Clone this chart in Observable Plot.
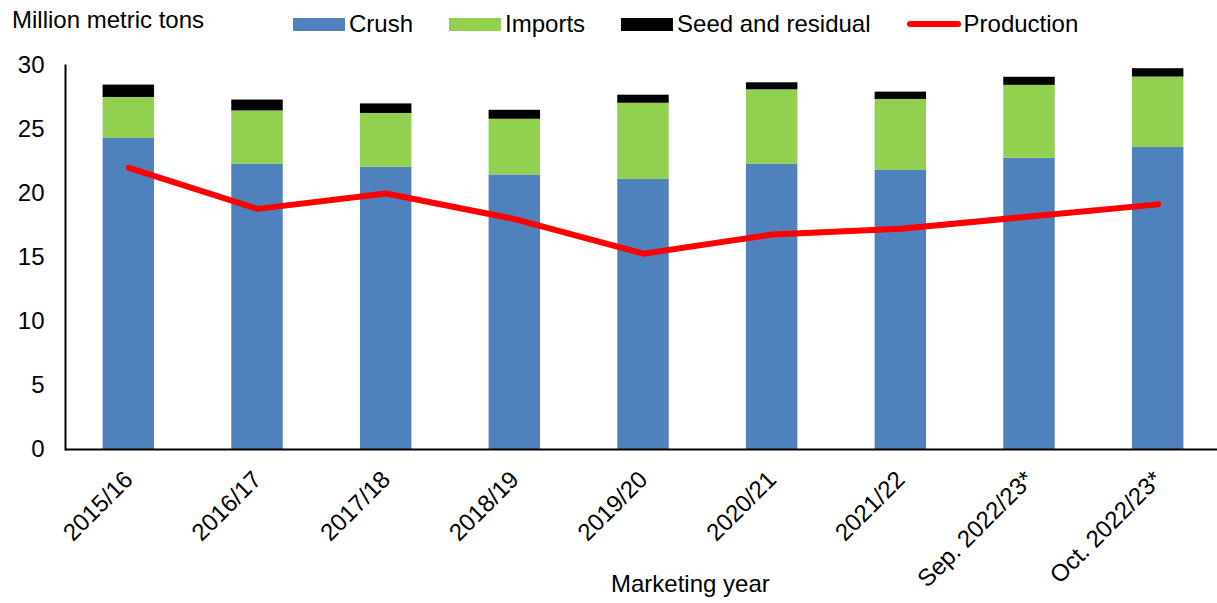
<!DOCTYPE html>
<html><head><meta charset="utf-8">
<script src="https://cdn.jsdelivr.net/npm/d3@7"></script>
<script src="https://cdn.jsdelivr.net/npm/@observablehq/plot@0.6"></script>
<style>
body{margin:0;background:#fff;font-family:"Liberation Sans",Arial,sans-serif;color:#000;}
#wrap{position:relative;width:1217px;height:603px;overflow:hidden;}
#title{position:absolute;left:12px;top:6px;font-size:24px;}
#legend{position:absolute;left:293px;top:10px;display:flex;gap:36px;font-size:24px;align-items:center;}
#legend .item{display:flex;align-items:center;}
#legend .sw{width:52px;height:13px;margin-right:4px;}
#legend .ln{width:54px;height:6px;border-radius:3px;margin-right:3px;background:#ff0000;}
#xlabel{position:absolute;left:611px;top:570px;font-size:24px;}
#chart{position:absolute;left:0;top:0;}
</style></head><body>
<div id="wrap"><div id="chart"></div><div id="title">Million metric tons</div><div id="legend"></div><div id="xlabel">Marketing year</div></div>
<script>
const years = ["2015/16","2016/17","2017/18","2018/19","2019/20","2020/21","2021/22","Sep. 2022/23*","Oct. 2022/23*"];
const crush = [24.3, 22.3, 22.05, 21.45, 21.1, 22.3, 21.8, 22.75, 23.6];
const imports = [3.2, 4.15, 4.2, 4.35, 5.95, 5.8, 5.55, 5.7, 5.5];
const seed = [0.97, 0.85, 0.75, 0.7, 0.63, 0.55, 0.57, 0.63, 0.65];
const production = [22.0, 18.8, 20.0, 18.0, 15.3, 16.8, 17.25, 18.2, 19.15];
const yTicks = [0, 5, 10, 15, 20, 25, 30];
const seriesNames = ["Crush", "Imports", "Seed and residual"];
const seriesColors = ["#4F81BD", "#92D050", "#000000"];
const lineName = "Production";
const lineColor = "#FF0000";

const seriesValues = [crush, imports, seed];
const rows = [];
years.forEach((yr, i) => {
  seriesNames.forEach((s, j) => rows.push({year: yr, series: s, value: seriesValues[j][i]}));
});
const prodRows = years.map((yr, i) => ({year: yr, value: production[i]}));

const legend = document.getElementById("legend");
seriesNames.forEach((s, j) => {
  const it = document.createElement("div"); it.className = "item";
  it.innerHTML = `<span class="sw" style="background:${seriesColors[j]}"></span><span>${s}</span>`;
  legend.appendChild(it);
});
{
  const it = document.createElement("div"); it.className = "item";
  it.innerHTML = `<span class="ln" style="background:${lineColor}"></span><span>${lineName}</span>`;
  legend.appendChild(it);
}

const plot = Plot.plot({
  width: 1217, height: 603,
  marginTop: 65, marginBottom: 154, marginLeft: 65, marginRight: 0,
  style: {fontFamily: '"Liberation Sans", Arial, sans-serif', fontSize: "24px", color: "#000", background: "transparent"},
  x: {domain: years, range: [64, 1222], paddingInner: 0.6, paddingOuter: 0.3, round: false, label: null},
  y: {domain: [0, 30], ticks: yTicks, label: null},
  color: {domain: seriesNames, range: seriesColors},
  marks: [
    Plot.barY(rows, {x: "year", y: "value", fill: "series"}),
    Plot.lineY(prodRows, {x: "year", y: "value", stroke: lineColor, strokeWidth: 6, strokeLinecap: "round", strokeLinejoin: "round"}),
    Plot.ruleY([0], {stroke: "#000", strokeWidth: 2}),
    Plot.frame({anchor: "left", stroke: "#000", strokeWidth: 2}),
    Plot.axisY({ticks: yTicks, tickSize: 0, tickPadding: 21, label: null, fontSize: 24}),
    Plot.axisX({tickRotate: -45, tickSize: 0, tickPadding: 26, label: null, fontSize: 24})
  ]
});
document.getElementById("chart").appendChild(plot);
</script>
</body></html>
